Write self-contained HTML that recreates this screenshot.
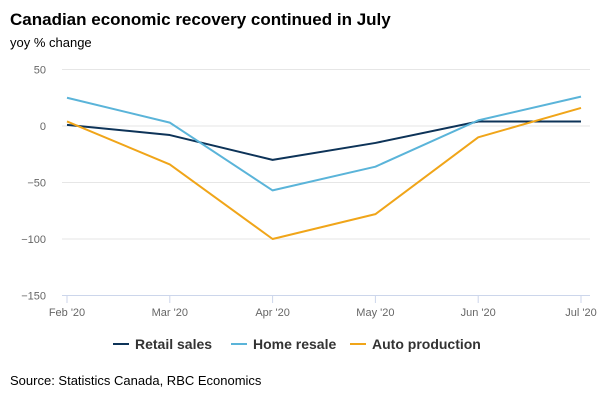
<!DOCTYPE html>
<html><head><meta charset="utf-8"><style>
body{margin:0;width:600px;height:400px;background:#fff;font-family:"Liberation Sans",sans-serif;overflow:hidden}
</style></head><body>
<svg width="600" height="400" style="position:absolute;left:0;top:0">
<text x="10" y="25" font-size="17" font-weight="bold" fill="#000">Canadian economic recovery continued in July</text>
<text x="10" y="47" font-size="13" fill="#000">yoy % change</text>
<g id="grid"></g><g id="series"></g>
<text x="10" y="385" font-size="13" fill="#000">Source: Statistics Canada, RBC Economics</text>
</svg>
<script>
const categories=["Feb '20","Mar '20","Apr '20","May '20","Jun '20","Jul '20"];
const yTicks=[50,0,-50,-100,-150];
const retailSales=[1,-8,-30,-15,4,4];
const homeResale=[25,3,-57,-36,5,26];
const autoProduction=[4,-34,-100,-78,-10,16];
const seriesNames=["Retail sales","Home resale","Auto production"];
const seriesColors=["#0d3358","#5ab4d9","#f0a519"];
const NS="http://www.w3.org/2000/svg";
const x=i=>67+i*(581-67)/(categories.length-1);
const y=v=>126-v*(126-69.5)/50;
const g=document.getElementById('grid'),s=document.getElementById('series');
function el(t,a,p){const e=document.createElementNS(NS,t);for(const k in a)e.setAttribute(k,a[k]);p.appendChild(e);return e;}
yTicks.forEach(v=>{
 const l=el('line',{x1:62,x2:590,y1:y(v),y2:y(v),stroke:v===-150?'#ccd6eb':'#e6e6e6','stroke-width':1},g);
 
 
 const t=el('text',{x:46,y:y(v)+4,'text-anchor':'end','font-size':11,fill:'#666'},g);
 t.textContent=v===0?'0':(v<0?'−'+(-v):v);
 
 
});
categories.forEach((c,i)=>{
 const tk=el('line',{x1:x(i),x2:x(i),y1:295,y2:303,stroke:'#ccd6eb'},g);
 
 
 const t=el('text',{x:x(i),y:316,'text-anchor':'middle','font-size':11,fill:'#666'},g);
 t.textContent=c;
 
 
});
[retailSales,homeResale,autoProduction].forEach((d,k)=>{
 const p=el('polyline',{points:d.map((v,i)=>x(i)+','+y(v)).join(' '),fill:'none',stroke:seriesColors[k],'stroke-width':2,'stroke-linejoin':'round'},s);
 
 
});
const lx=[113,231,350];
seriesNames.forEach((n,k)=>{
 const gg=el('g',{},s);
 
 
 el('line',{x1:lx[k],x2:lx[k]+16,y1:344,y2:344,stroke:seriesColors[k],'stroke-width':2},gg);
 const t=el('text',{x:lx[k]+22,y:349,'font-size':14,'font-weight':'bold',fill:'#333'},gg);
 t.textContent=n;
});
</script>
</body></html>
